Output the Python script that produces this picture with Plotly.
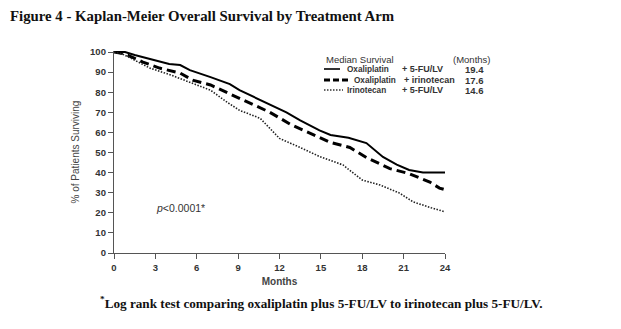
import plotly.graph_objects as go

# Data
months_a = [0, 0.8, 1.5, 2.8, 4.0, 4.8, 5.5, 7.0, 8.4, 9.1, 10.0, 11.3, 12.5, 13.5, 14.9, 15.7, 17.0, 18.3, 19.5, 20.5, 21.4, 22.4, 24.0]
surv_a = [100, 100, 98.5, 96, 94, 93.5, 91, 87.5, 84, 81, 78, 73.6, 70, 66, 61, 58.7, 57.3, 54.7, 47.8, 44, 41.3, 40, 40]

months_b = [0, 0.8, 2.1, 3.3, 4.8, 5.7, 7.0, 8.0, 9.9, 11.3, 12.8, 14.2, 15.7, 17.1, 18.3, 20.0, 21.4, 22.9, 23.6, 24.0]
surv_b = [100, 99, 95, 92, 89.5, 86, 83.6, 80.5, 74.6, 70, 64, 59.5, 55, 52.5, 47.5, 42, 39.5, 35.3, 32.3, 31.5]

months_c = [0, 0.6, 1.2, 2.6, 4.1, 5.5, 7.0, 8.2, 9.1, 10.6, 12.0, 13.5, 14.9, 15.7, 16.6, 18.0, 19.3, 20.7, 21.7, 23.0, 24.0]
surv_c = [100, 99, 97, 92, 88.6, 85, 81, 75, 71, 67, 57, 52.5, 48, 46, 43.8, 36.3, 33.8, 29.8, 25.4, 22.5, 20.5]

x_ticks = [0, 3, 6, 9, 12, 15, 18, 21, 24]
y_ticks = [0, 10, 20, 30, 40, 50, 60, 70, 80, 90, 100]

legend_drugs = ["Oxaliplatin", "Oxaliplatin", "Irinotecan"]
legend_partners = ["+ 5-FU/LV", "+ irinotecan", "+ 5-FU/LV"]
legend_medians = ["19.4", "17.6", "14.6"]

fig = go.Figure()
fig.add_trace(go.Scatter(x=months_a, y=surv_a, mode="lines",
                         line=dict(color="black", width=2, dash="solid"), showlegend=False))
fig.add_trace(go.Scatter(x=months_b, y=surv_b, mode="lines",
                         line=dict(color="black", width=3, dash="9px,5px"), showlegend=False))
fig.add_trace(go.Scatter(x=months_c, y=surv_c, mode="lines",
                         line=dict(color="#222", width=1.6, dash="1.5px,1.5px"), showlegend=False))

fig.update_layout(
    width=621, height=329,
    margin=dict(l=114, r=176, t=51, b=76),
    paper_bgcolor="white", plot_bgcolor="white",
    xaxis=dict(range=[0, 24], tickvals=x_ticks, ticks="outside", ticklen=5,
               tickcolor="#555", showline=True, linecolor="#555", linewidth=1.3,
               showgrid=False, zeroline=False,
               tickfont=dict(family="Liberation Sans, Arial", size=9.5, color="#333", weight="bold"),
               title=dict(text="<b>Months</b>", font=dict(family="Liberation Sans, Arial", size=10, color="#444"), standoff=6)),
    yaxis=dict(range=[0, 100.5], tickvals=y_ticks, ticks="outside", ticklen=5,
               tickcolor="#555", showline=True, linecolor="#555", linewidth=1.3,
               showgrid=False, zeroline=False,
               tickfont=dict(family="Liberation Sans, Arial", size=9.5, color="#333", weight="bold"),
               title=dict(text="% of Patients Surviving", font=dict(family="Liberation Sans, Arial", size=10, color="#444"), standoff=8)),
)

# Title
fig.add_annotation(text="<b>Figure 4 - Kaplan-Meier Overall Survival by Treatment Arm</b>",
                   xref="paper", yref="paper", x=-106/331, y=1 + (51 - 16) / 202,
                   xanchor="left", yanchor="middle", showarrow=False,
                   font=dict(family="Liberation Serif, Times New Roman", size=14.8, color="#111"))

# Footnote
fig.add_annotation(text="<b><sup>*</sup>Log rank test comparing oxaliplatin plus 5-FU/LV to irinotecan plus 5-FU/LV.</b>",
                   xref="paper", yref="paper", x=(98 - 114) / 331, y=-(302 - 253) / 202,
                   xanchor="left", yanchor="middle", showarrow=False,
                   font=dict(family="Liberation Serif, Times New Roman", size=13.2, color="#111"))

# p-value
fig.add_annotation(text="<i>p</i>&lt;0.0001*", xref="x", yref="y", x=2.9, y=22.5,
                   xanchor="left", yanchor="middle", showarrow=False,
                   font=dict(family="Liberation Sans, Arial", size=10.5, color="#333"))

# Custom legend
def px2paper_x(px):
    return (px - 114) / 331

def px2paper_y(py):
    return (253 - py) / 202

lf = dict(family="Liberation Sans, Arial", size=9.5, color="#333")
fig.add_annotation(text="Median Survival", xref="paper", yref="paper",
                   x=px2paper_x(324), y=px2paper_y(59), xanchor="left", yanchor="middle",
                   showarrow=False, font=lf)
fig.add_annotation(text="(Months)", xref="paper", yref="paper",
                   x=px2paper_x(451), y=px2paper_y(59), xanchor="left", yanchor="middle",
                   showarrow=False, font=lf)
rows_y = [69, 80, 90]
sample_styles = [dict(color="black", width=1.6, dash="solid"),
                 dict(color="black", width=3, dash="6px,3px"),
                 dict(color="#333", width=1.3, dash="1.5px,1.5px")]
sample_end = [340, 350, 343]
drug_x = [345, 352, 345]
for i in range(3):
    yy = px2paper_y(rows_y[i])
    fig.add_shape(type="line", xref="paper", yref="paper",
                  x0=px2paper_x(324), x1=px2paper_x(sample_end[i]), y0=yy, y1=yy,
                  line=sample_styles[i])
    fig.add_annotation(text="<b>" + legend_drugs[i] + "</b>", xref="paper", yref="paper",
                       x=px2paper_x(drug_x[i]), y=yy, xanchor="left", yanchor="middle",
                       showarrow=False, font=dict(family="Liberation Sans, Arial", size=8.2, color="#333"))
    fig.add_annotation(text=legend_partners[i], xref="paper", yref="paper",
                       x=px2paper_x(400 if i != 1 else 402), y=yy, xanchor="left", yanchor="middle",
                       showarrow=False, font=dict(family="Liberation Sans, Arial", size=9, color="#333", weight="bold"))
    fig.add_annotation(text=legend_medians[i], xref="paper", yref="paper",
                       x=px2paper_x(463), y=yy, xanchor="left", yanchor="middle",
                       showarrow=False, font=dict(family="Liberation Sans, Arial", size=9.5, color="#333", weight="bold"))

fig.write_html("out.html")
